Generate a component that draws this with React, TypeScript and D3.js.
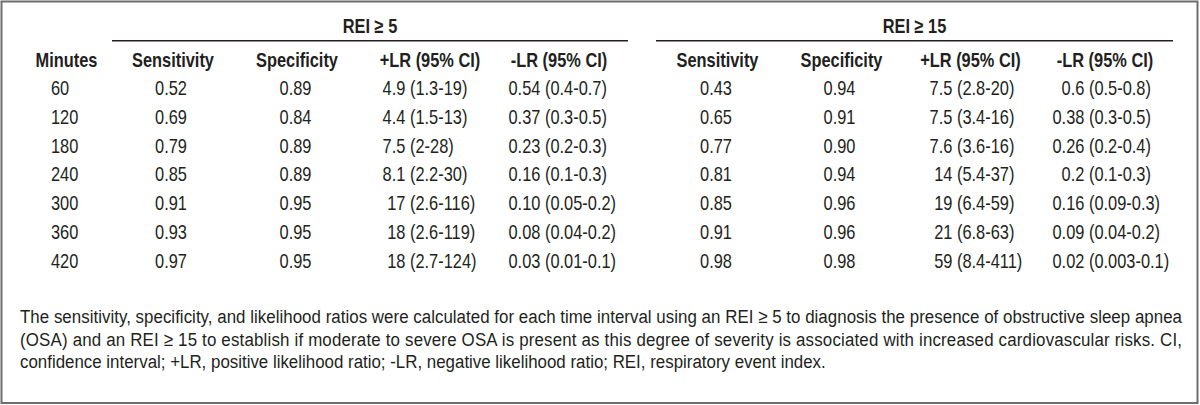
import React from "react";
import * as d3 from "d3";

const minutes = ["60", "120", "180", "240", "300", "360", "420"];
const sens5 = ["0.52", "0.69", "0.79", "0.85", "0.91", "0.93", "0.97"];
const spec5 = ["0.89", "0.84", "0.89", "0.89", "0.95", "0.95", "0.95"];
const plr5 = ["4.9 (1.3-19)", "4.4 (1.5-13)", "7.5 (2-28)", "8.1 (2.2-30)", "17 (2.6-116)", "18 (2.6-119)", "18 (2.7-124)"];
const nlr5 = ["0.54 (0.4-0.7)", "0.37 (0.3-0.5)", "0.23 (0.2-0.3)", "0.16 (0.1-0.3)", "0.10 (0.05-0.2)", "0.08 (0.04-0.2)", "0.03 (0.01-0.1)"];
const sens15 = ["0.43", "0.65", "0.77", "0.81", "0.85", "0.91", "0.98"];
const spec15 = ["0.94", "0.91", "0.90", "0.94", "0.96", "0.96", "0.98"];
const plr15 = ["7.5 (2.8-20)", "7.5 (3.4-16)", "7.6 (3.6-16)", "14 (5.4-37)", "19 (6.4-59)", "21 (6.8-63)", "59 (8.4-411)"];
const nlr15 = ["0.6 (0.5-0.8)", "0.38 (0.3-0.5)", "0.26 (0.2-0.4)", "0.2 (0.1-0.3)", "0.16 (0.09-0.3)", "0.09 (0.04-0.2)", "0.02 (0.003-0.1)"];

const groupTitles = ["REI \u2265 5", "REI \u2265 15"];
const colHeaders = ["Sensitivity", "Specificity", "+LR (95% CI)", "-LR (95% CI)"];
const captionLines = [
  "The sensitivity, specificity, and likelihood ratios were calculated for each time interval using an REI \u2265 5 to diagnosis the presence of obstructive sleep apnea",
  "(OSA) and an REI \u2265 15 to establish if moderate to severe OSA is present as this degree of severity is associated with increased cardiovascular risks. CI,",
  "confidence interval; +LR, positive likelihood ratio; -LR, negative likelihood ratio; REI, respiratory event index.",
];

const W = 1200;
const H = 405;
const FONT = "'Liberation Sans', Arial, sans-serif";
const INK = "#231f20";
const SX = 0.82;
const CSX = 0.889;

type TProps = {
  x: number;
  y: number;
  anchor?: "start" | "middle" | "end";
  size?: number;
  bold?: boolean;
  sx?: number;
  len?: number;
  children: React.ReactNode;
};

function T({ x, y, anchor = "start", size = 20, bold = false, sx = SX, len, children }: TProps) {
  return (
    <text
      transform={`translate(${x},${y}) scale(${sx},1)`}
      textAnchor={anchor}
      fontSize={size}
      fontWeight={bold ? "bold" : "normal"}
      fill={INK}
      {...(len ? { textLength: len, lengthAdjust: "spacing" } : {})}
    >
      {children}
    </text>
  );
}

export default function App() {
  const y = d3.scaleLinear().domain([0, minutes.length - 1]).range([95, 267.8]);

  const groups = [
    { title: groupTitles[0], lineX: [112, 628], headerX: [173, 297, 430, 559], dataX: [171, 295.5], parenX: [410, 545], cols: [sens5, spec5, plr5, nlr5] },
    { title: groupTitles[1], lineX: [656, 1173], headerX: [717.5, 841.5, 970.5, 1105], dataX: [716, 839.5], parenX: [957, 1089], cols: [sens15, spec15, plr15, nlr15] },
  ];

  const split = (s: string) => {
    const i = s.indexOf(" (");
    return [s.slice(0, i), s.slice(i + 1)];
  };

  return (
    <svg width={W} height={H} style={{ position: "absolute", left: 0, top: 0, background: "#fff" }} fontFamily={FONT}>
      <rect x={0} y={0} width={W} height={H} fill="#fff" />
      <rect x={1.5} y={1.5} width={1196} height={401.5} fill="none" stroke="#6d6d6d" strokeWidth={2} />
      <T x={66.5} y={66.7} anchor="middle" bold>Minutes</T>
      {minutes.map((m, i) => (
        <T key={m} x={51} y={y(i)}>{m}</T>
      ))}
      {groups.map((g) => (
        <g key={g.title}>
          <T x={(g.lineX[0] + g.lineX[1]) / 2} y={33} anchor="middle" bold>{g.title}</T>
          <line x1={g.lineX[0]} x2={g.lineX[1]} y1={40.7} y2={40.7} stroke={INK} strokeWidth={1.4} />
          {colHeaders.map((h, j) => (
            <T key={h} x={g.headerX[j]} y={66.7} anchor="middle" bold>{h}</T>
          ))}
          {[0, 1].map((j) =>
            g.cols[j].map((v, i) => (
              <T key={`${j}-${i}`} x={g.dataX[j]} y={y(i)} anchor="middle">{v}</T>
            ))
          )}
          {[2, 3].map((j) =>
            g.cols[j].map((v, i) => {
              const [est, ci] = split(v);
              const px = g.parenX[j - 2];
              return (
                <g key={`${j}-${i}`}>
                  <T x={px - 4.6} y={y(i)} anchor="end">{est}</T>
                  <T x={px} y={y(i)}>{ci}</T>
                </g>
              );
            })
          )}
        </g>
      ))}
      {captionLines.map((l, i) => (
        <T key={i} x={20} y={323.3 + i * 22.4} size={19} sx={CSX} len={i < 2 ? 1162 / CSX : undefined}>{l}</T>
      ))}
    </svg>
  );
}
